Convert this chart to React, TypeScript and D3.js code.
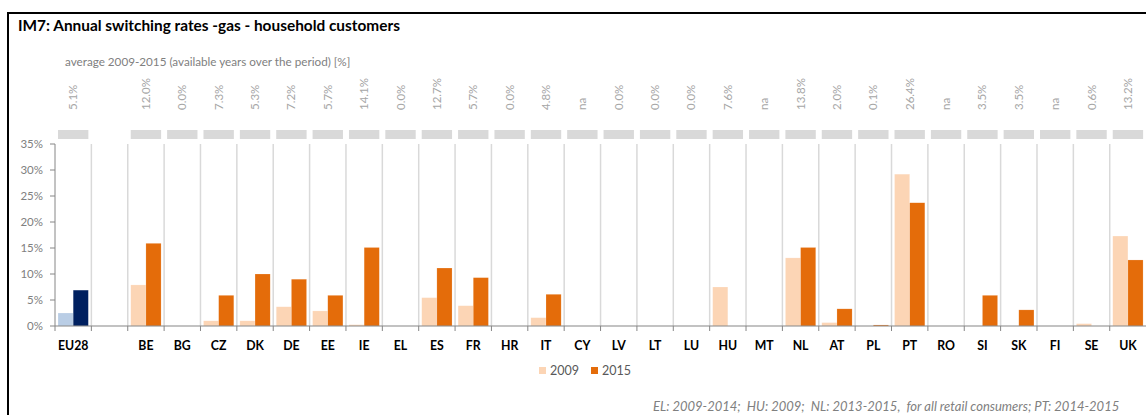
import React from "react";
import * as d3 from "d3";

const categories = ["EU28", "", "BE", "BG", "CZ", "DK", "DE", "EE", "IE", "EL", "ES", "FR", "HR", "IT", "CY", "LV", "LT", "LU", "HU", "MT", "NL", "AT", "PL", "PT", "RO", "SI", "SK", "FI", "SE", "UK"];
const values2009: (number | null)[] = [2.5, null, 7.9, 0, 1.0, 1.0, 3.7, 2.9, 0.25, 0, 5.45, 3.9, 0, 1.6, 0, 0, 0, 0, 7.5, 0, 13.1, 0.65, 0, 29.2, 0, 0, 0, 0, 0.45, 17.3];
const values2015: (number | null)[] = [6.9, null, 15.9, 0, 5.9, 10.0, 9.0, 5.9, 15.1, 0, 11.15, 9.3, 0, 6.1, 0, 0, 0, 0, 0, 0, 15.1, 3.3, 0.2, 23.7, 0, 5.9, 3.1, 0, 0, 12.7];
const avgLabels = ["5.1%", "", "12.0%", "0.0%", "7.3%", "5.3%", "7.2%", "5.7%", "14.1%", "0.0%", "12.7%", "5.7%", "0.0%", "4.8%", "na", "0.0%", "0.0%", "0.0%", "7.6%", "na", "13.8%", "2.0%", "0.1%", "26.4%", "na", "3.5%", "3.5%", "na", "0.6%", "13.2%"];
const yTicks = [0, 5, 10, 15, 20, 25, 30, 35];
const seriesNames = ["2009", "2015"];

const title = "IM7: Annual switching rates -gas - household customers";
const subtitle = "average 2009-2015 (available years over the period) [%]";
const footnote = "EL: 2009-2014;  HU: 2009;  NL: 2013-2015,  for all retail consumers; PT: 2014-2015";

const FONT = "Lato, 'Open Sans', sans-serif";

export default function App() {
  const W = 1146, H = 415;
  const x = d3.scaleBand<string>().domain(categories.map((c, i) => i + "")).range([55, 1146.1]).paddingInner(0).paddingOuter(0);
  const xs = d3.scaleBand<string>().domain(seriesNames).range([0, x.bandwidth()]).paddingInner(0).paddingOuter(0.2);
  const y = d3.scaleLinear().domain([0, 35]).range([326, 144]);

  const colors = (cat: string, s: string) => {
    if (cat === "EU28") return s === "2009" ? "#B9CDE5" : "#002060";
    return s === "2009" ? "#FCD5B5" : "#E46C0A";
  };

  return (
    <svg width={W} height={H} style={{ position: "absolute", left: 0, top: 0, background: "#fff" }} fontFamily={FONT}>
      <rect x={0} y={0} width={W} height={H} fill="#fff" />
      <rect x={8} y={13} width={W + 10} height={H + 10} fill="none" stroke="#000" strokeWidth={2} />
      <text x={18} y={31} fontSize={15.4} fontWeight="bold" fill="#000">{title}</text>
      <text x={65} y={66} fontSize={11.7} fill="#808080">{subtitle}</text>

      {/* rotated average labels and grey boxes */}
      {categories.map((c, i) => {
        if (c === "") return null;
        const cx = (x(i + "") as number) + x.bandwidth() / 2;
        return (
          <g key={"top" + i}>
            <text transform={`translate(${cx + 4},110) rotate(-90)`} fontSize={11.5} fill="#A6A6A6">{avgLabels[i]}</text>
            <rect x={(x(i + "") as number) + 3} y={130} width={x.bandwidth() - 6} height={9} fill="#D9D9D9" />
          </g>
        );
      })}

      {/* vertical gridlines */}
      {categories.map((c, i) => i === 0 ? null : (
        <line key={"g" + i} x1={x(i + "")} x2={x(i + "")} y1={144} y2={326} stroke="#D9D9D9" strokeWidth={1.5} />
      ))}

      {/* y axis */}
      <line x1={55} x2={55} y1={144} y2={326} stroke="#868686" strokeWidth={1} />
      {yTicks.map(t => (
        <g key={"yt" + t}>
          <line x1={50} x2={55} y1={y(t)} y2={y(t)} stroke="#868686" />
          <text x={43} y={y(t) + 4} fontSize={11.5} textAnchor="end" fill="#808080">{t}%</text>
        </g>
      ))}

      {/* bars */}
      {categories.map((c, i) => {
        if (c === "") return null;
        const x0 = x(i + "") as number;
        return seriesNames.map((s, si) => {
          const v = (si === 0 ? values2009 : values2015)[i];
          if (v == null || v <= 0) return null;
          return (
            <rect key={c + s} x={x0 + (xs(s) as number)} y={y(v)} width={xs.bandwidth()} height={y(0) - y(v)}
              fill={colors(c, s)} stroke="#fff" strokeOpacity={0.35} strokeWidth={0.5} />
          );
        });
      })}

      {/* x axis */}
      <line x1={55} x2={1146} y1={326} y2={326} stroke="#868686" strokeWidth={1.2} />
      {categories.map((c, i) => (
        <line key={"xt" + i} x1={x(i + "")} x2={x(i + "")} y1={326} y2={331} stroke="#868686" />
      ))}
      {categories.map((c, i) => (
        <text key={"xl" + i} x={(x(i + "") as number) + x.bandwidth() / 2} y={349.5} fontSize={12.3} fontWeight="bold" textAnchor="middle" fill="#000">{c}</text>
      ))}

      {/* legend */}
      {seriesNames.map((s, i) => (
        <g key={"lg" + s} transform={`translate(${539 + i * 52},367)`}>
          <rect x={0} y={0} width={7} height={7} fill={colors("", s)} />
          <text x={11} y={7.5} fontSize={12.5} fill="#595959">{s}</text>
        </g>
      ))}

      <text x={653} y={410.5} fontSize={13} fontStyle="italic" fill="#808080" style={{ whiteSpace: "pre" }}>{footnote}</text>
    </svg>
  );
}
